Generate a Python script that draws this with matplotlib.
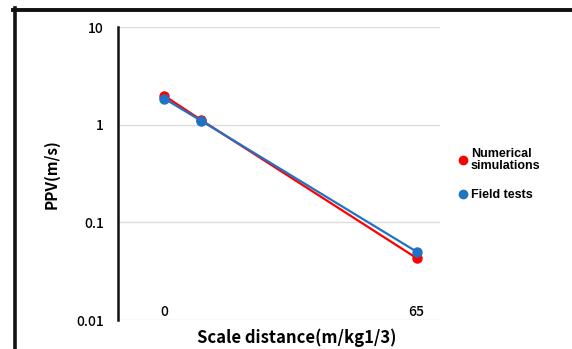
import matplotlib
matplotlib.use("Agg")
import matplotlib.pyplot as plt
from matplotlib.lines import Line2D

plt.rcParams['font.family'] = ['Noto Sans CJK JP', 'DejaVu Sans']

x_num = [0, 9.45, 65]
y_num = [1.98, 1.12, 0.043]
x_field = [0, 9.45, 65]
y_field = [1.85, 1.10, 0.050]
series_names = ["Numerical\nsimulations", "Field tests"]
y_ticks = [0.01, 0.1, 1, 10]
y_tick_labels = ["0.01", "0.1", "1", "10"]
x_text_labels = [(0, "0"), (65, "65")]

W, H = 572, 349
fig = plt.figure(figsize=(W / 100, H / 100), dpi=100)
ax = fig.add_axes([118 / W, 1 - 320 / H, (440 - 118) / W, (320 - 27) / H])

ax.set_yscale('log')
ax.set_ylim(0.01, 10)
ax.set_xlim(-11.9, 71.0)

ax.plot(x_num, y_num, color='#FF0000', lw=1.6, marker='o', ms=6.5,
        label=series_names[0], zorder=3)
ax.plot(x_field, y_field, color='#1F73C4', lw=1.6, marker='o', ms=6.5,
        label=series_names[1], zorder=4)

ax.set_yticks(y_ticks)
ax.set_yticklabels(y_tick_labels)
ax.yaxis.set_minor_locator(matplotlib.ticker.NullLocator())
ax.set_xticks([])
ax.tick_params(axis='y', length=0, pad=10, labelsize=10)
for lbl in ax.get_yticklabels():
    lbl.set_fontweight('medium')
ax.grid(axis='y', color='#dcdcdc', lw=1)
for s in ['top', 'right', 'bottom']:
    ax.spines[s].set_visible(False)
ax.spines['left'].set_linewidth(1.8)
ax.spines['left'].set_color('#111111')

tr = ax.get_xaxis_transform()
for xv, t in x_text_labels:
    ax.text(xv, 0.027, t, transform=tr, ha='center', va='center', fontsize=10,
            fontweight='medium')

fig.text(297 / W, 1 - 338 / H, "Scale distance(m/kg1/3)", ha='center', va='center',
         fontsize=12, fontweight='bold')
fig.text(52 / W, 1 - 174 / H, "PPV(m/s)", ha='center', va='center', rotation=90,
         fontsize=11, fontweight='bold')

leg = ax.legend(loc='upper left', bbox_to_anchor=(459 / W, 1 - 148 / H),
                bbox_transform=fig.transFigure, frameon=False, handlelength=0.6,
                handletextpad=0.35, labelspacing=1.35,
                prop={'size': 9, 'weight': 'bold', 'family': ['Liberation Sans', 'DejaVu Sans']},
                borderaxespad=0, borderpad=0)
for t in leg.get_texts():
    t.set_linespacing(1.0)
for h in leg.legend_handles:
    h.set_linestyle('none')
    h.set_markersize(6)

# figure frame
fig.add_artist(Line2D([14.5 / W, 14.5 / W], [0, 1 - 8 / H], transform=fig.transFigure,
                      color='#111111', lw=2.6))
fig.add_artist(Line2D([13 / W, 1], [1 - 10 / H, 1 - 10 / H], transform=fig.transFigure,
                      color='#111111', lw=2.8))

fig.savefig('out.png', dpi=100)
